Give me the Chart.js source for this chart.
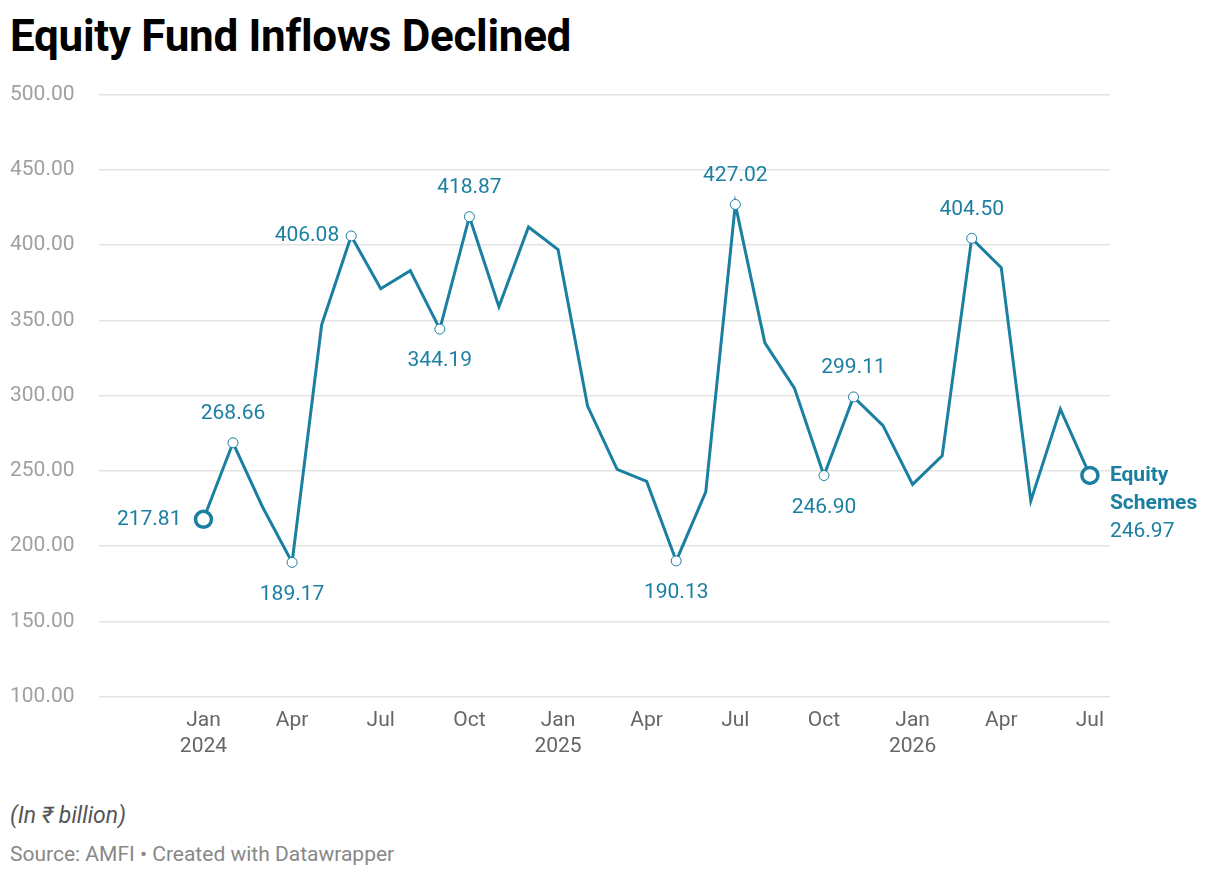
<!DOCTYPE html>
<html>
<head>
<meta charset="utf-8">
<script src="https://cdn.jsdelivr.net/npm/chart.js"></script>
<style>
  body { margin: 0; background: #fff; font-family: Roboto, sans-serif; width: 1220px; height: 878px; position: relative; overflow: hidden; }
  h1 { position: absolute; left: 10px; top: 10px; margin: 0; font-size: 44px; font-weight: 700; color: #000; letter-spacing: -0.3px; }
  #wrap { position: absolute; left: 0; top: 70px; width: 1220px; height: 693px; }
  .note { position: absolute; left: 10px; top: 802px; font-size: 23px; font-style: italic; color: #555; }
  .src { position: absolute; left: 10px; top: 842px; font-size: 21px; color: #888; }
</style>
</head>
<body>
<h1>Equity Fund Inflows Declined</h1>
<div id="wrap"><canvas id="chart"></canvas></div>
<div class="note">(In ₹ billion)</div>
<div class="src">Source: AMFI • Created with Datawrapper</div>
<script>
const months = ['Jan', 'Feb', 'Mar', 'Apr', 'May', 'Jun', 'Jul', 'Aug', 'Sep', 'Oct', 'Nov', 'Dec'];
const years = [2024, 2025, 2026];
const inflows = [
  217.81, 268.66, 226, 189.17, 347, 406.08, 371, 383, 344.19, 418.87, 359, 412,
  397, 293, 251, 243, 190.13, 236, 427.02, 335, 305, 246.90, 299.11, 280,
  241, 260, 404.50, 385, 230, 291, 246.97
];
// index -> label placement
const labelled = { 0: 'left', 1: 'above', 3: 'below', 5: 'left', 8: 'below', 9: 'above',
  16: 'below', 18: 'above', 21: 'below', 22: 'above', 26: 'above' };
const yTicks = [100, 150, 200, 250, 300, 350, 400, 450, 500];
const seriesName = ['Equity', 'Schemes'];

const blue = '#1b7fa1';
const last = inflows.length - 1;
const points = inflows.map((v, i) => ({ x: i, y: v }));
const radius = inflows.map((v, i) => (i === 0 || i === last) ? 8 : (labelled[i] ? 5 : 0));

const labelPlugin = {
  id: 'labels',
  afterDatasetsDraw(chart) {
    const ctx = chart.ctx;
    const meta = chart.getDatasetMeta(0);
    ctx.save();
    ctx.font = '21px Roboto';
    ctx.fillStyle = blue;
    ctx.textBaseline = 'middle';
    Object.keys(labelled).forEach(k => {
      const i = +k, p = meta.data[i], txt = inflows[i].toFixed(2), pos = labelled[k];
      if (pos === 'left') { ctx.textAlign = 'right'; ctx.fillText(txt, p.x - (i === 0 ? 22 : 12), p.y); }
      else if (pos === 'above') { ctx.textAlign = 'center'; ctx.fillText(txt, p.x, p.y - 29); }
      else { ctx.textAlign = 'center'; ctx.fillText(txt, p.x, p.y + 32); }
    });
    const p = meta.data[last];
    ctx.textAlign = 'left';
    ctx.font = 'bold 21px Roboto';
    ctx.fillText(seriesName[0], p.x + 20, p.y);
    ctx.fillText(seriesName[1], p.x + 20, p.y + 28);
    ctx.font = '21px Roboto';
    ctx.fillText(inflows[last].toFixed(2), p.x + 20, p.y + 56);
    ctx.restore();
  }
};

new Chart(document.getElementById('chart'), {
  type: 'line',
  data: {
    datasets: [{
      data: points,
      borderColor: blue,
      borderWidth: 3,
      tension: 0,
      pointRadius: radius,
      pointHoverRadius: radius,
      pointBackgroundColor: '#fff',
      pointBorderColor: blue,
      pointBorderWidth: inflows.map((v, i) => (i === 0 || i === last) ? 3.5 : 1)
    }]
  },
  options: {
    responsive: true,
    maintainAspectRatio: false,
    animation: false,
    layout: { padding: { top: 12, right: 110, left: 10 } },
    plugins: { legend: { display: false }, tooltip: { enabled: false } },
    scales: {
      x: {
        type: 'linear',
        min: -3.55,
        max: 30.68,
        afterBuildTicks(axis) {
          const t = [];
          for (let i = 0; i <= last; i += 3) t.push({ value: i });
          axis.ticks = t;
        },
        grid: { display: false },
        border: { display: false },
        ticks: {
          color: '#666',
          font: { size: 21, family: 'Roboto' },
          maxRotation: 0,
          autoSkip: false,
          padding: 4,
          callback(v) {
            const m = months[v % 12];
            return v % 12 === 0 ? [m, String(years[v / 12])] : m;
          }
        }
      },
      y: {
        min: 100,
        max: 500,
        afterBuildTicks(axis) { axis.ticks = yTicks.map(v => ({ value: v })); },
        grid: { color: '#e3e3e3', lineWidth: 1.5, drawTicks: false },
        border: { display: false },
        ticks: {
          color: '#a0a0a0',
          font: { size: 21, family: 'Roboto' },
          padding: 12,
          crossAlign: 'far',
          callback: v => v.toFixed(2)
        }
      }
    }
  },
  plugins: [labelPlugin]
});
</script>
</body>
</html>
